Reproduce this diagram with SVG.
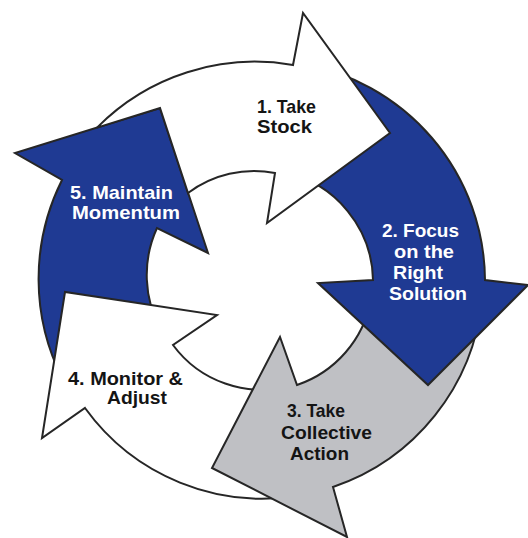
<svg xmlns="http://www.w3.org/2000/svg" width="528" height="538" viewBox="0 0 528 538">
<style>
.arr{stroke:#262626;stroke-width:2;stroke-linejoin:miter}
.blue{fill:#1f3a93}
.white{fill:#ffffff}
.grey{fill:#bfc0c4}
.lbl{font-family:"Liberation Sans",Arial,sans-serif;font-weight:bold;font-size:19px}
.lw{fill:#ffffff}
.lk{fill:#141414}
</style>
<rect width="528" height="538" fill="#ffffff"/>
<g id="node5">
<path class="arr blue" d="M 63 380 A 221 221 0 0 1 62 180 L 15 153 L 160 108 L 208 253 L 157 228 A 113 113 0 0 0 161 330 Z"/>
<text class="lbl lw" x="70" y="199" textLength="103" lengthAdjust="spacingAndGlyphs">5. Maintain</text>
<text class="lbl lw" x="72" y="219" textLength="108" lengthAdjust="spacingAndGlyphs">Momentum</text>
</g>
<g id="node4">
<path class="arr white" d="M 300 495.5 A 219 219 0 0 1 85 408 L 42 438 L 65 292 L 217 315 L 173 345 A 110 110 0 0 0 290 386 Z"/>
<text class="lbl lk" x="68" y="385" textLength="115" lengthAdjust="spacingAndGlyphs">4. Monitor &amp;</text>
<text class="lbl lk" x="107" y="404" textLength="60" lengthAdjust="spacingAndGlyphs">Adjust</text>
</g>
<g id="node3">
<path class="arr grey" d="M 482 300 A 221 221 0 0 1 333 487 L 347 537 L 212 468 L 280 337 L 297 385 A 112 112 0 0 0 371 300 Z"/>
<text class="lbl lk" x="287" y="417" textLength="58" lengthAdjust="spacingAndGlyphs">3. Take</text>
<text class="lbl lk" x="281" y="439" textLength="91" lengthAdjust="spacingAndGlyphs">Collective</text>
<text class="lbl lk" x="290" y="460" textLength="59" lengthAdjust="spacingAndGlyphs">Action</text>
</g>
<g id="node2">
<path class="arr blue" d="M 300 63.5 A 221 221 0 0 1 485 280 L 528 285 L 428 385 L 318 283 L 373 280 A 112 112 0 0 0 285 172.6 Z"/>
<text class="lbl lw" x="382" y="237" textLength="77" lengthAdjust="spacingAndGlyphs">2. Focus</text>
<text class="lbl lw" x="394" y="258" textLength="60" lengthAdjust="spacingAndGlyphs">on the</text>
<text class="lbl lw" x="393" y="279" textLength="50" lengthAdjust="spacingAndGlyphs">Right</text>
<text class="lbl lw" x="389" y="300" textLength="78" lengthAdjust="spacingAndGlyphs">Solution</text>
</g>
<g id="node1">
<path class="arr white" d="M 97 127.6 A 222 222 0 0 1 293 65 L 303 13 L 390 133 L 267 223 L 275 173 A 110 110 0 0 0 188 193 L 160 108 Z"/>
<text class="lbl lk" x="257" y="113" textLength="59" lengthAdjust="spacingAndGlyphs">1. Take</text>
<text class="lbl lk" x="257" y="133" textLength="55" lengthAdjust="spacingAndGlyphs">Stock</text>
</g>
<g id="connectors"/>
</svg>
